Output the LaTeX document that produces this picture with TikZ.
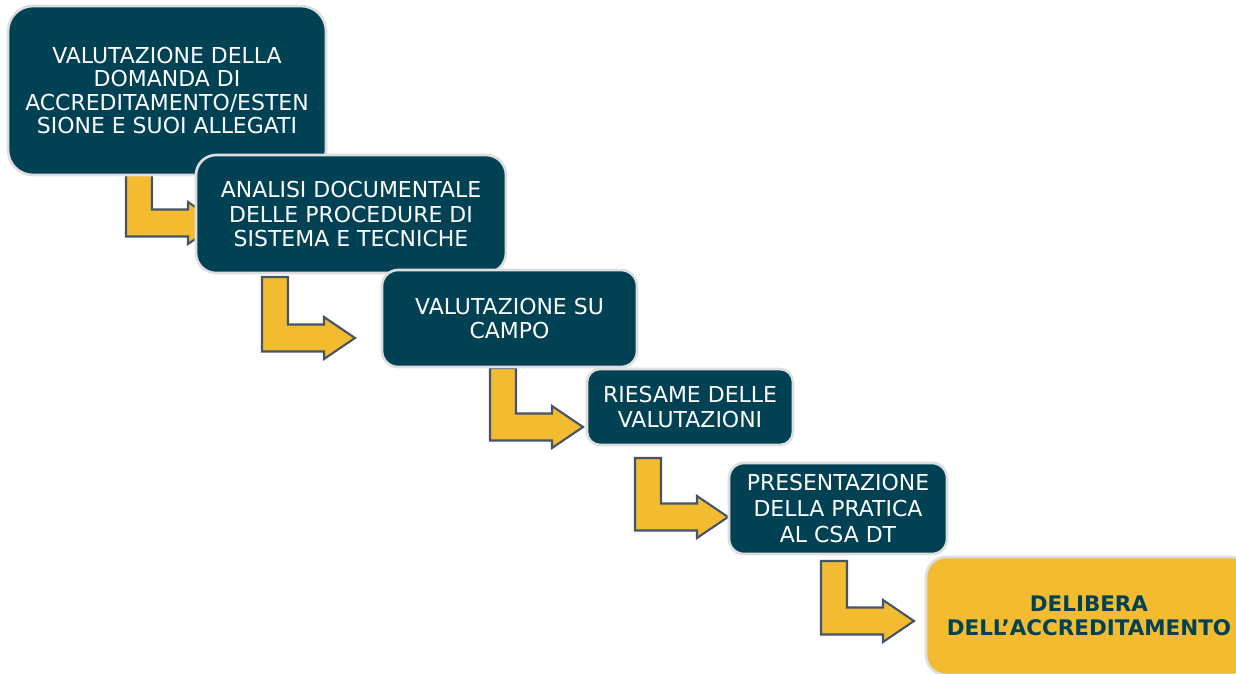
\documentclass[tikz,border=0pt]{standalone}
\usepackage{fontspec}
\setmainfont{DejaVu Sans}
\usetikzlibrary{backgrounds}

\definecolor{petrol}{RGB}{0,66,84}
\definecolor{ocra}{RGB}{242,187,48}
\definecolor{ardesia}{RGB}{68,84,106}
\definecolor{bordo}{RGB}{222,222,222}

% bent arrow: stem left x, stem top y, bar centre y (pixel units)
\newcommand{\bentarrow}[3]{%
  \draw[bent] (#1,#2) -- (#1+26,#2) -- (#1+26,#3-13.5) -- (#1+62,#3-13.5)
    -- (#1+62,#3-21) -- (#1+93,#3) -- (#1+62,#3+21) -- (#1+62,#3+13.5)
    -- (#1,#3+13.5) -- cycle;}

\begin{document}
\begin{tikzpicture}
  [x=0.02cm, y=-0.02cm,
   box/.style={draw=bordo, line width=1.5pt, fill=petrol, text=white,
     inner sep=0pt, align=center, font=\fontsize{12.5}{14.2}\selectfont},
   lastbox/.style={box, fill=ocra, text=petrol, font=\fontsize{12.2}{14}\selectfont\bfseries},
   bent/.style={draw=ardesia, fill=ocra, line width=1.2pt, line join=miter}]
  \useasboundingbox (0,0) rectangle (1236,673);
  \clip (0,0) rectangle (1236,673);

  \node[box, minimum width=63.6mm, minimum height=33.8mm, rounded corners=5mm,
        font=\fontsize{12.5}{13.2}\selectfont] (b1) at (167,90.5)
    {VALUTAZIONE DELLA\\DOMANDA DI\\ACCREDITAMENTO/ESTEN\\SIONE E SUOI ALLEGATI};
  \node[box, minimum width=62mm, minimum height=23.6mm, rounded corners=4mm] (b2) at (351,214)
    {ANALISI DOCUMENTALE\\DELLE PROCEDURE DI\\SISTEMA E TECNICHE};
  \node[box, minimum width=51mm, minimum height=19.4mm, rounded corners=3.2mm] (b3) at (509.5,318.5)
    {VALUTAZIONE SU\\CAMPO};
  \node[box, minimum width=41.2mm, minimum height=15.2mm, rounded corners=2.6mm] (b4) at (690,407)
    {RIESAME DELLE\\VALUTAZIONI};
  \node[box, minimum width=43.6mm, minimum height=18.2mm, rounded corners=3mm,
        font=\fontsize{12.5}{14.8}\selectfont] (b5) at (838,508.5)
    {PRESENTAZIONE\\DELLA PRATICA\\AL CSA DT};
  \node[lastbox, minimum width=65.2mm, minimum height=23.6mm, rounded corners=4mm] (b6) at (1089,616)
    {DELIBERA\\DELL’ACCREDITAMENTO};

  % arrows between the steps
  \begin{scope}[on background layer]
    \bentarrow{126}{160}{223}
    \bentarrow{262}{277}{338}
    \bentarrow{490}{368}{427}
    \bentarrow{635}{458}{517}
    \bentarrow{821}{561}{621}
  \end{scope}
\end{tikzpicture}
\end{document}
